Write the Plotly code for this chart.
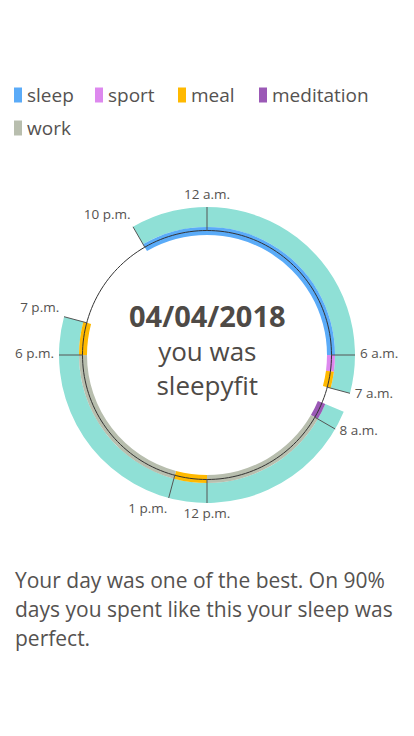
import math
import plotly.graph_objects as go

# ---------------- data ----------------
activity_names = ["sleep", "sport", "meal", "meditation", "work"]
activity_colors = ["#5aabf8", "#dd88ee", "#ffb900", "#9b59b6", "#b8beae"]
# segments in hours (start, end); end may exceed 24 to wrap past midnight
sleep_segments = [(22.0, 30.0)]
sport_segments = [(6.0, 6.5)]
meal_segments = [(6.5, 7.0), (12.0, 13.0), (18.0, 19.0)]
meditation_segments = [(7.5, 8.0)]
work_segments = [(8.0, 12.0), (13.0, 18.0)]
activity_segments = [sleep_segments, sport_segments, meal_segments,
                     meditation_segments, work_segments]

quality_segments = [(22.0, 31.0), (31.5, 43.0)]
quality_color = "#8fe0d6"

tick_hours = [0, 6, 7, 8, 12, 13, 18, 19, 22]
tick_labels = ["12 a.m.", "6 a.m.", "7 a.m.", "8 a.m.", "12 p.m.",
               "1 p.m.", "6 p.m.", "7 p.m.", "10 p.m."]

title_date = "04/04/2018"
title_lines = ["you was", "sleepyfit"]
summary_lines = ["Your day was one of the best. On 90%",
                 "days you spent like this your sleep was",
                 "perfect."]

# ---------------- geometry / style ----------------
W, H = 414, 736
CX, CY = 207, 355
RMAX = 160
ACT_BASE, ACT_W = 120, 8
Q_BASE, Q_W = 128, 20
CIRCLE_R = 124.5
TICK_IN, TICK_OUT = 124, 148
LABEL_R = 153
TXT = "#555250"
FONT = "Open Sans"

# legend layout (pixel positions of each item's swatch: left x, centre y)
legend_pos = [(14, 95), (95, 95), (178, 95), (259, 95), (14, 128)]
SW_W, SW_H = 8, 15


def h2deg(h):
    return h * 15.0


fig = go.Figure()

# outer quality band
fig.add_trace(go.Barpolar(
    theta=[h2deg((a + b) / 2) for a, b in quality_segments],
    width=[h2deg(b - a) for a, b in quality_segments],
    r=[Q_W] * len(quality_segments),
    base=[Q_BASE] * len(quality_segments),
    marker=dict(color=quality_color, line=dict(width=0)),
    showlegend=False, hoverinfo="skip",
))

# activity bands
for name, color, segs in zip(activity_names, activity_colors, activity_segments):
    fig.add_trace(go.Barpolar(
        theta=[h2deg((a + b) / 2) for a, b in segs],
        width=[h2deg(b - a) for a, b in segs],
        r=[ACT_W] * len(segs),
        base=[ACT_BASE] * len(segs),
        marker=dict(color=color, line=dict(width=0)),
        name=name, showlegend=False,
    ))

# clock circle
circ_theta = [i * 2.0 for i in range(181)]
fig.add_trace(go.Scatterpolar(
    theta=circ_theta, r=[CIRCLE_R] * len(circ_theta), mode="lines",
    line=dict(color="#333333", width=1), showlegend=False, hoverinfo="skip",
))

# tick lines
tt, tr = [], []
for h in tick_hours:
    tt += [h2deg(h), h2deg(h), None]
    tr += [TICK_IN, TICK_OUT, None]
fig.add_trace(go.Scatterpolar(
    theta=tt, r=tr, mode="lines", line=dict(color="#555555", width=1),
    showlegend=False, hoverinfo="skip",
))

# tick labels
positions = []
for h in tick_hours:
    s = math.sin(math.radians(h2deg(h)))
    c = math.cos(math.radians(h2deg(h)))
    if abs(s) < 0.05:
        hz = "center"
        v = "top" if c > 0 else "bottom"
    else:
        hz = "right" if s > 0 else "left"
        if c < -0.9:
            v = "bottom"
        elif s < 0 and c > 0.1:
            v = "top"
        else:
            v = "middle"
    positions.append(f"{v} {hz}")
fig.add_trace(go.Scatterpolar(
    theta=[h2deg(h) for h in tick_hours], r=[LABEL_R] * len(tick_hours),
    mode="text", text=tick_labels, textposition=positions,
    textfont=dict(family=FONT, size=13.5, color=TXT),
    showlegend=False, hoverinfo="skip",
))

fig.update_layout(
    width=W, height=H, margin=dict(l=0, r=0, t=0, b=0),
    paper_bgcolor="white", plot_bgcolor="white",
    font=dict(family=FONT, color=TXT),
    polar=dict(
        domain=dict(x=[(CX - RMAX) / W, (CX + RMAX) / W],
                    y=[1 - (CY + RMAX) / H, 1 - (CY - RMAX) / H]),
        bgcolor="rgba(0,0,0,0)",
        radialaxis=dict(range=[0, RMAX], visible=False),
        angularaxis=dict(direction="clockwise", rotation=90, visible=False),
        bargap=0,
    ),
    showlegend=False,
)

# legend (swatch + label per activity)
for (lx, ly), name, color in zip(legend_pos, activity_names, activity_colors):
    fig.add_shape(type="rect", xref="paper", yref="paper",
                  x0=lx / W, x1=(lx + SW_W) / W,
                  y0=1 - (ly + SW_H / 2) / H, y1=1 - (ly - SW_H / 2) / H,
                  fillcolor=color, line=dict(width=0))
    fig.add_annotation(x=(lx + SW_W + 3) / W, y=1 - ly / H, xref="paper", yref="paper",
                       text=name, showarrow=False, xanchor="left", yanchor="middle",
                       font=dict(family=FONT, size=19, color=TXT))

# centre text (one block)
centre = (f"<span style='font-size:29px'><b>{title_date}</b></span><br>"
          + "<br>".join(title_lines))
fig.add_annotation(x=CX / W, y=1 - 349 / H, xref="paper", yref="paper",
                   text=centre, showarrow=False, xanchor="center", yanchor="middle",
                   font=dict(family=FONT, size=26, color="#4e4a46"))

# summary text
for i, line in enumerate(summary_lines):
    fig.add_annotation(x=13 / W, y=1 - (580 + 29 * i) / H, xref="paper", yref="paper",
                       text=line, showarrow=False, xanchor="left", yanchor="middle",
                       font=dict(family=FONT, size=21, color=TXT))

fig.write_html("out.html")
